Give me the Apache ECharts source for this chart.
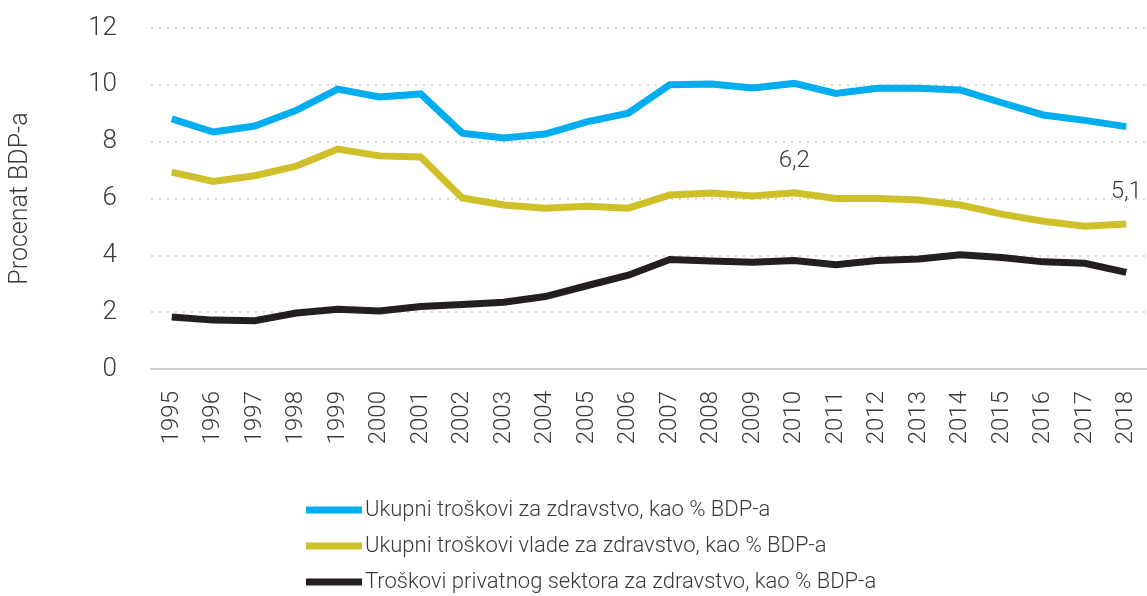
<!DOCTYPE html>
<html>
<head>
<meta charset="utf-8">
<script src="https://cdn.jsdelivr.net/npm/echarts@6/dist/echarts.min.js"></script>
<style>
  html, body { margin: 0; padding: 0; background: #fff; }
  #chart { width: 1147px; height: 596px; }
</style>
</head>
<body>
<div id="chart"></div>
<script>
const years = ['1995','1996','1997','1998','1999','2000','2001','2002','2003','2004','2005','2006',
  '2007','2008','2009','2010','2011','2012','2013','2014','2015','2016','2017','2018'];

const ukupni = [8.8, 8.34, 8.55, 9.1, 9.85, 9.57, 9.68, 8.3, 8.13, 8.27, 8.7, 9.0,
  10.0, 10.03, 9.89, 10.05, 9.7, 9.88, 9.88, 9.82, 9.37, 8.94, 8.75, 8.53];
const vlada = [6.93, 6.6, 6.8, 7.14, 7.74, 7.5, 7.46, 6.02, 5.77, 5.66, 5.73, 5.66,
  6.12, 6.19, 6.09, 6.2, 6.0, 6.0, 5.95, 5.77, 5.45, 5.2, 5.02, 5.1];
const privatni = [1.83, 1.72, 1.7, 1.97, 2.1, 2.04, 2.2, 2.27, 2.35, 2.55, 2.93, 3.3,
  3.85, 3.8, 3.76, 3.82, 3.67, 3.82, 3.87, 4.02, 3.92, 3.77, 3.72, 3.4];

const seriesNames = [
  'Ukupni troškovi za zdravstvo, kao % BDP-a',
  'Ukupni troškovi vlade za zdravstvo, kao % BDP-a',
  'Troškovi privatnog sektora za zdravstvo, kao % BDP-a'
];
const labeledYears = ['2010', '2018'];

const font = "Roboto, sans-serif";
const textColor = '#3a3a3a';

const chart = echarts.init(document.getElementById('chart'));

const vladaData = vlada.map(function (v, i) {
  if (labeledYears.indexOf(years[i]) >= 0) {
    return {
      value: v,
      label: {
        show: true,
        position: 'top',
        distance: 20,
        formatter: function (p) { return String(p.value).replace('.', ','); },
        fontFamily: font,
        fontWeight: 300,
        fontSize: 24,
        color: textColor
      }
    };
  }
  return v;
});

function lineSeries(name, data, color) {
  return {
    name: name,
    type: 'line',
    data: data,
    symbol: 'circle',
    symbolSize: 0.1,
    showSymbol: true,
    lineStyle: { width: 7, color: color, cap: 'butt', join: 'miter' },
    itemStyle: { color: color },
    emphasis: { disabled: true }
  };
}

// one legend per row so the rows stack like the original
const legends = seriesNames.map(function (name, i) {
  return {
    orient: 'vertical',
    left: 306,
    top: 498 + i * 36,
    padding: 0,
    itemWidth: 56,
    itemHeight: 7,
    icon: 'rect',
    textStyle: { fontFamily: font, fontWeight: 300, fontSize: 22, lineHeight: 24, color: textColor, padding: [0, 0, 0, -2] },
    data: [name]
  };
});

chart.setOption({
  animation: false,
  textStyle: { fontFamily: font },
  grid: { left: 151, right: 0, top: 28, bottom: 227 },
  legend: legends,
  xAxis: {
    type: 'category',
    data: years,
    boundaryGap: true,
    axisLine: { show: true, lineStyle: { color: '#d0d0d0', width: 2 } },
    axisTick: { show: false },
    axisLabel: {
      rotate: 90,
      interval: 0,
      margin: 22,
      fontFamily: font,
      fontWeight: 300,
      fontSize: 24,
      color: textColor
    }
  },
  yAxis: {
    type: 'value',
    min: 0,
    max: 12,
    interval: 2,
    name: 'Procenat BDP-a',
    nameLocation: 'middle',
    nameGap: 118,
    nameTextStyle: { fontFamily: font, fontWeight: 300, fontSize: 25, color: textColor },
    axisLine: { show: false },
    axisTick: { show: false },
    axisLabel: { margin: 34, fontFamily: font, fontWeight: 300, fontSize: 26, color: textColor },
    splitLine: { lineStyle: { type: [2, 6], color: '#c8c8c8', width: 1.5 } }
  },
  series: [
    lineSeries(seriesNames[0], ukupni, '#00aeef'),
    lineSeries(seriesNames[1], vladaData, '#cfc02a'),
    lineSeries(seriesNames[2], privatni, '#231f20')
  ]
});
</script>
</body>
</html>
